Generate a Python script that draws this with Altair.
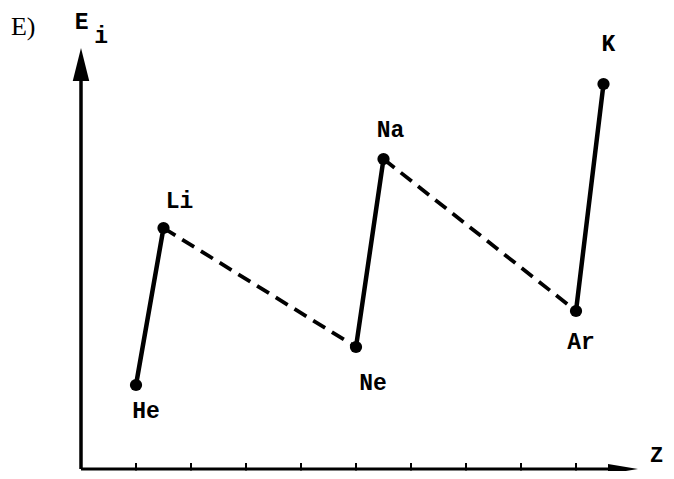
import altair as alt
import pandas as pd

# --- data ---
elements = ["He", "Li", "Ne", "Na", "Ar", "K"]
z_values = [2, 3, 10, 11, 18, 19]
e_values = [8.4, 24.1, 12.2, 31.0, 15.8, 38.5]

solid_pairs = [("He", "Li"), ("Ne", "Na"), ("Ar", "K")]
dashed_pairs = [("Li", "Ne"), ("Na", "Ar")]

tick_z = [2, 4, 6, 8, 10, 12, 14, 16, 18]

# label offsets (px) relative to each point
label_dx = {"He": 10, "Li": 16, "Ne": 17, "Na": 7, "Ar": 5, "K": 5}
label_dy = {"He": 26, "Li": -27, "Ne": 36, "Na": -29, "Ar": 31, "K": -40}

# axis geometry in data units
x_axis_end = 19.2
x_arrow_at = 19.71
y_axis_end = 38.8
y_arrow_at = 40.45

# annotation texts
ann_text = ["E)", "E", "i", "Z"]
ann_x = [-2.1, 0.02, 0.73, 20.93]
ann_y = [44.2, 44.7, 43.3, 1.4]
ann_font = ["Liberation Serif", "Liberation Mono", "Liberation Mono", "Liberation Mono"]
ann_size = [26, 23, 23, 22]
ann_weight = ["normal", "bold", "bold", "bold"]

# --- build tables ---
pts = pd.DataFrame({"el": elements, "z": z_values, "e": e_values})
lookup = {el: (z, e) for el, z, e in zip(elements, z_values, e_values)}


def seg_table(pairs):
    rows = []
    for i, (a, b) in enumerate(pairs):
        for o, el in enumerate((a, b)):
            rows.append({"seg": i, "ord": o, "z": lookup[el][0], "e": lookup[el][1]})
    return pd.DataFrame(rows)


solid = seg_table(solid_pairs)
dashed = seg_table(dashed_pairs)

xs = alt.Scale(domain=[0, 20], nice=False, zero=False)
ys = alt.Scale(domain=[0, 42], nice=False, zero=False)
X = lambda f: alt.X(f, type="quantitative", scale=xs, axis=None)
Y = lambda f: alt.Y(f, type="quantitative", scale=ys, axis=None)

base_solid = alt.Chart(solid).mark_line(color="black", strokeWidth=4.5, strokeCap="round").encode(
    x=X("z"), y=Y("e"), detail="seg:N", order="ord:Q"
)
base_dashed = alt.Chart(dashed).mark_line(
    color="black", strokeWidth=3.8, strokeDash=[14, 8]
).encode(x=X("z"), y=Y("e"), detail="seg:N", order="ord:Q")

dots = alt.Chart(pts).mark_circle(color="black", size=150, opacity=1).encode(x=X("z"), y=Y("e"))

label_layers = []
for el in elements:
    label_layers.append(
        alt.Chart(pts)
        .transform_filter(alt.datum.el == el)
        .mark_text(
            font="Liberation Mono",
            fontWeight="bold",
            fontSize=23,
            color="black",
            dx=label_dx[el],
            dy=label_dy[el],
            baseline="middle",
            align="center",
        )
        .encode(x=X("z"), y=Y("e"), text="el:N")
    )

# axes
xaxis = alt.Chart(pd.DataFrame({"x0": [0], "x1": [x_axis_end], "y0": [0]})).mark_rule(
    color="black", strokeWidth=3
).encode(x=X("x0"), x2="x1", y=Y("y0"))
yaxis = alt.Chart(pd.DataFrame({"x0": [0], "y0": [0], "y1": [y_axis_end]})).mark_rule(
    color="black", strokeWidth=3.5
).encode(x=X("x0"), y=Y("y0"), y2="y1")

xarrow = alt.Chart(pd.DataFrame({"x": [x_arrow_at], "y": [0]})).mark_point(
    shape="M1,0 L-1,-0.33 L-1,0.33 Z", filled=True, color="black", opacity=1, size=900
).encode(x=X("x"), y=Y("y"))
yarrow = alt.Chart(pd.DataFrame({"x": [0], "y": [y_arrow_at]})).mark_point(
    shape="M0,-1 L0.5,1 L-0.5,1 Z", filled=True, color="black", opacity=1, size=1089
).encode(x=X("x"), y=Y("y"))

ticks = alt.Chart(pd.DataFrame({"z": tick_z, "y0": -0.15, "y1": 0.6})).mark_rule(
    color="black", strokeWidth=2
).encode(x=X("z"), y=Y("y0"), y2="y1")

ann_layers = []
for t, ax_, ay_, f, s, w in zip(ann_text, ann_x, ann_y, ann_font, ann_size, ann_weight):
    ann_layers.append(
        alt.Chart(pd.DataFrame({"x": [ax_], "y": [ay_], "t": [t]}))
        .mark_text(font=f, fontSize=s, fontWeight=w, color="black", baseline="middle", align="center")
        .encode(x=X("x"), y=Y("y"), text="t:N")
    )

chart = (
    alt.layer(xaxis, yaxis, ticks, xarrow, yarrow, base_dashed, base_solid, dots, *label_layers, *ann_layers)
    .properties(
        width=550,
        height=420,
        autosize=alt.AutoSizeParams(type="none"),
        padding={"left": 73, "top": 41, "right": 35, "bottom": 2},
        background="white",
    )
    .configure_view(stroke=None)
)

chart.save("out.html", embed_options={"renderer": "svg", "actions": False})
